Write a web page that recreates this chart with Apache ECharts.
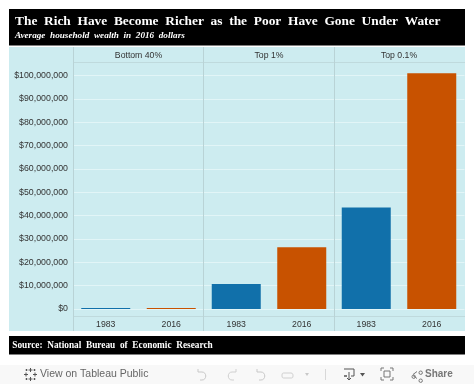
<!DOCTYPE html>
<html><head><meta charset="utf-8">
<style>html,body{margin:0;padding:0;background:#fff}#c{width:474px;height:384px}</style>
<script src="https://cdn.jsdelivr.net/npm/echarts@6/dist/echarts.min.js"></script></head>
<body><div id="c"></div>
<script>
const titleText = 'The  Rich  Have  Become  Richer  as  the  Poor  Have  Gone  Under  Water';
const subtitleText = 'Average  household  wealth  in  2016  dollars';
const sourceText = 'Source:  National  Bureau  of  Economic  Research';
const years = ['1983', '2016'];
const groups = ['Bottom 40%', 'Top 1%', 'Top 0.1%'];
const bottom40 = [100000, 100000];
const top1 = [10700000, 26500000];
const topPoint1 = [43500000, 101000000];
const barColors = ['#1170aa', '#c85200'];
const groupValues = [bottom40, top1, topPoint1];

const paneX = [73, 203.5, 333.5], paneW = 131;
const gridTop = 52.3, gridH = 280.1;
const serif = '"Liberation Serif", serif', sans = '"Liberation Sans", Arial, sans-serif';
const usd = v => '$' + v.toLocaleString('en-US');

let iconCount = 0;
const rect = (x, y, w, h, fill, z, r) => ({type:'rect', silent:true, z:z||0, shape:{x,y,width:w,height:h,r:r||0}, style:{fill}});
const line = (x1, y1, x2, y2, stroke, z) => ({type:'line', silent:true, z:z||1, shape:{x1,y1,x2,y2}, style:{stroke, lineWidth:1}});
const text = (x, y, t, font, fill, align) => ({type:'text', silent:true, z:5, x, y, style:{text:t, font, fill, align:align||'left', verticalAlign:'middle'}});
const icon = (x, y, d, stroke, fill) => {
  const name = 'toolIcon' + (iconCount++);
  echarts.graphic.registerShape(name, echarts.graphic.extendPath(d, {}));
  return {type:name, silent:true, z:5, x, y, style:{stroke:stroke, fill:fill||'none', lineWidth:1}};
};

const graphics = [
  rect(9, 9, 456, 36.5, '#000', 0),
  rect(9, 47, 456, 284, '#cdecf0', 0),
  rect(9, 336, 456, 18.5, '#000', 0),
  rect(0, 365, 474, 19, '#f8f8f8', 0),
  text(15, 22, titleText, 'bold 13.4px ' + serif, '#fff'),
  text(15, 36, subtitleText, 'italic bold 9.2px ' + serif, '#fff'),
  text(12.3, 346, sourceText, 'bold 9.3px ' + serif, '#fff'),
  line(73.5, 62.5, 465, 62.5, '#bfdadd'),
  line(73.5, 316.5, 465, 316.5, '#bfdadd'),
  line(73.5, 47, 73.5, 331, '#b9d3d6'),
  line(203.5, 47, 203.5, 331, '#b9d3d6'),
  line(334.5, 47, 334.5, 331, '#b9d3d6'),
  text(40, 374.5, 'View on Tableau Public', '10.5px ' + sans, '#666'),
  text(425, 374.5, 'Share', 'bold 10px ' + sans, '#777'),
  icon(24, 368, 'M6.5 0V4M4.5 2H8.5M6.5 9V13M4.5 11H8.5M2 4.5V8.5M0 6.5H4M11 4.5V8.5M9 6.5H13M2.5 1V3M1.5 2H3.5M10.5 1V3M9.5 2H11.5M2.5 10V12M1.5 11H3.5M10.5 10V12M9.5 11H11.5', '#555'),
  icon(197, 369, 'M1 0V3H5C10 3 10 11 5 11H3', '#c8c8c8'),
  icon(225, 369, 'M11 0V3H7C2 3 2 11 7 11H9', '#d0d0d0'),
  icon(256, 369, 'M1 0V3H5C10 3 10 11 5 11H3', '#c8c8c8'),
  icon(282, 372, 'M0 3C0 1 1 1 2 1H9C11 1 11 3 11 4C11 6 10 6 9 6H2C1 6 0 6 0 4Z', '#d0d0d0'),
  icon(305, 373, 'M0 0H4L2 3Z', 'none', '#c8c8c8'),
  line(325.5, 369, 325.5, 380, '#d8d8d8', 5),
  icon(344, 369, 'M0 0H10V7H7M3 7H0ZM5 3V11M3 9L5 11L7 9', '#555'),
  icon(360, 373, 'M0 0H5L2.5 3.5Z', 'none', '#555'),
  icon(381, 368, 'M3 0H0V3M9 0H12V3M3 12H0V9M9 12H12V9M3 3H9V9H3Z', '#777'),
  icon(410, 369, 'M3 5.5L7 2.5M3 6.5L7 9.5M3.7 6A1.7 1.7 0 1 1 3.69 6M10.7 2A1.7 1.7 0 1 1 10.69 2M10.7 10A1.7 1.7 0 1 1 10.69 10', '#777')
];
groups.forEach((g, i) => graphics.push(text(paneX[i] + paneW / 2, 55.5, g, '8.7px ' + sans, '#333', 'center')));

const option = {
  animation: false,
  backgroundColor: '#fff',
  graphic: graphics,
  grid: groups.map((g, i) => ({left: paneX[i], width: paneW, top: gridTop, height: gridH, containLabel: false})),
  xAxis: groups.map((g, i) => ({
    type: 'category', gridIndex: i, data: years,
    axisLine: {show: false}, axisTick: {show: false},
    axisLabel: {color: '#333', fontSize: 8.7, fontFamily: sans, margin: -12}
  })),
  yAxis: groups.map((g, i) => ({
    type: 'value', gridIndex: i, min: -10000000, max: 110000000, interval: 10000000,
    axisLine: {show: false}, axisTick: {show: false},
    splitLine: {show: true, showMinLine: false, showMaxLine: false, lineStyle: {color: '#e2f5f7', width: 1}},
    axisLabel: {show: i === 0, showMinLabel: false, showMaxLabel: false, color: '#333', fontSize: 8.8, fontFamily: sans, margin: 5, formatter: usd}
  })),
  series: groups.map((g, i) => ({
    type: 'bar', xAxisIndex: i, yAxisIndex: i, barWidth: 49, barMinHeight: 1,
    data: groupValues[i].map((v, k) => ({value: v, itemStyle: {color: barColors[k]}}))
  }))
};
echarts.init(document.getElementById('c'), null, {renderer: 'canvas'}).setOption(option);
</script></body></html>
